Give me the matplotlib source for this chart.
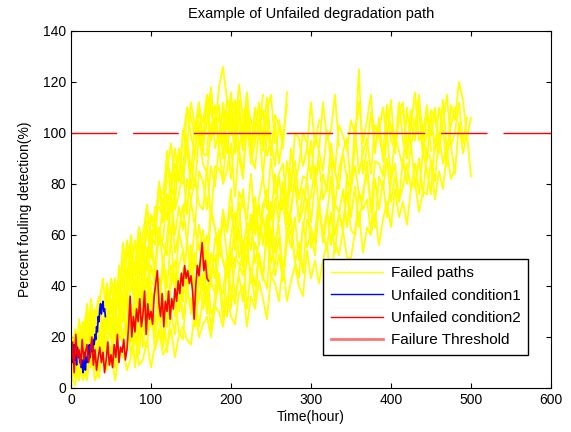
import numpy as np
import matplotlib
matplotlib.use("Agg")
import matplotlib.pyplot as plt
from matplotlib.lines import Line2D

plt.rcParams['font.family'] = ['Liberation Sans', 'DejaVu Sans']

# failed paths are read every 5 hours, unfailed ones more finely
step_failed = 5
step_red = 2
step_blue = 1
threshold = 100

# fast degrading failed paths
fast_a = [15, 6, 27, 16, 26, 10, 25, 35, 23, 21, 40, 32, 42, 34, 54, 49, 39, 59, 52, 72, 56,
          65, 79, 65, 85, 96, 81, 93, 84, 110, 106, 98, 112, 95, 104, 118, 94, 100, 109, 92,
          107, 113, 101, 97, 111, 89, 108, 105, 99, 114, 95]
fast_b = [4, 11, 22, 5, 22, 31, 14, 23, 11, 33, 31, 25, 42, 27, 39, 55, 33, 42, 53, 39, 56,
          66, 58, 58, 76, 58, 81, 82, 80, 99, 84, 103, 101, 92, 114, 97, 105, 111, 90, 108,
          99, 110, 93, 104, 115, 95, 100, 112, 96, 106, 91, 107, 103, 94, 116]
fast_c = [22, 12, 18, 26, 13, 35, 22, 32, 43, 24, 43, 37, 34, 57, 41, 53, 44, 63, 54, 46, 68,
          65, 56, 74, 66, 84, 70, 76, 87, 68, 88, 79, 99, 88, 84, 101, 111, 94, 104, 93,
          111, 102, 113, 96, 107, 92, 110, 100, 115]
fast_d = [5, 18, 3, 17, 30, 12, 19, 33, 20, 32, 19, 39, 38, 33, 58, 44, 58, 45, 61, 71, 60,
          56, 78, 76, 90, 76, 88, 81, 101, 94, 112, 102, 112, 97, 115, 109, 100, 118, 126,
          113, 111, 100, 119, 106]
fast_e = [14, 9, 18, 9, 28, 22, 11, 30, 22, 41, 24, 31, 42, 26, 43, 52, 35, 44, 33, 55, 53,
          47, 63, 48, 59, 75, 53, 61, 72, 57, 74, 82, 72, 70, 86, 66, 87, 86, 82, 99,
          82, 98, 91, 82, 105, 88, 97, 103, 83, 101, 93, 104, 88, 99, 111]
fast_f = [8, 21, 7, 22, 31, 19, 13, 35, 31, 40, 29, 40, 32, 51, 43, 60, 44, 57, 44, 65, 67,
          60, 81, 71, 81, 81, 72, 94, 83, 94, 78, 93, 104, 92, 91, 117, 100, 107, 96, 113,
          105, 92, 109, 99, 116, 97, 102, 111, 93, 108, 115, 96]
fast_g = [14, 7, 3, 22, 18, 12, 31, 18, 14, 29, 35, 23, 48, 31, 36, 45, 32, 53, 40, 51, 62,
          42, 62, 56, 52, 76, 60, 71, 62, 82, 73, 63, 85, 81, 70, 87, 79, 95, 80, 85,
          96, 75, 94, 84, 103, 91, 86, 101, 109, 91, 97, 87, 105, 97]
fast_h = [6, 23, 17, 9, 33, 18, 28, 36, 16, 36, 29, 43, 29, 43, 57, 40, 48, 63, 50, 63, 51,
          71, 71, 67, 93, 79, 94, 81, 99, 109, 99, 91, 110, 104, 115, 97, 106, 95, 112, 101,
          116, 98, 108, 93, 111, 105, 96]

# slow degrading failed paths
slow_1 = [3, 12, 21, 8, 5, 28, 12, 20, 10, 28, 21, 9, 27, 18, 36, 18, 23, 33, 16, 32, 40,
          22, 30, 18, 38, 35, 28, 43, 27, 37, 52, 28, 35, 45, 29, 45, 52, 40, 37, 52, 31,
          51, 49, 44, 59, 41, 57, 50, 42, 65, 49, 57, 64, 44, 63, 55, 67, 50, 62, 74, 55,
          61, 74, 59, 70, 56, 72, 69, 61, 84, 67, 79, 63, 77, 84, 71, 63, 83, 78, 90, 73,
          83, 73, 90, 80, 96, 79, 90, 75, 94, 89, 81, 99, 88, 96, 95, 84, 104, 92, 100, 83]
slow_2 = [7, 21, 10, 16, 20, 12, 24, 22, 17, 29, 22, 20, 30, 33, 21, 30, 27, 37, 32, 26, 42,
          40, 31, 49, 31, 42, 50, 39, 34, 58, 45, 53, 42, 53, 60, 40, 59, 54, 66, 52, 50,
          63, 73, 53, 65, 62, 73, 56, 69, 78, 66, 84, 70, 79, 67, 84, 89, 74, 83, 82, 97,
          79, 93, 85, 101, 90, 85, 103, 99, 93, 105, 99, 112, 96, 105, 115, 94, 101, 110, 98,
          113, 92, 106, 109, 95, 103, 116, 97, 100, 111, 93]
slow_3 = [11, 9, 17, 8, 15, 20, 10, 21, 16, 29, 21, 30, 21, 29, 25, 42, 32, 40, 22, 32, 47,
          42, 31, 49, 39, 59, 38, 48, 54, 39, 56, 47, 64, 54, 50, 71, 62, 52, 70, 61, 71,
          54, 77, 72, 66, 84, 63, 74, 83, 70, 90, 76, 84, 88, 71, 94, 81, 87, 100, 96, 82,
          100, 93, 112, 98, 101, 115, 95]
slow_4 = [9, 4, 12, 3, 9, 15, 3, 8, 13, 7, 16, 3, 13, 15, 7, 12, 20, 9, 11, 19, 8,
          17, 23, 13, 16, 23, 12, 21, 24, 19, 17, 31, 20, 25, 28, 20, 32, 30, 24, 36, 28,
          25, 37, 40, 24, 36, 31, 42, 35, 27, 44, 41, 34, 49, 34, 42, 48, 40, 36, 54, 43,
          50, 41, 50, 57, 41, 57, 52, 62, 51, 51, 61, 69, 53, 63, 60, 69, 56, 66, 73, 63,
          78, 67, 73, 64, 78, 81, 69, 77, 76, 89, 74, 85, 78, 93, 82, 86]
slow_5 = [9, 14, 8, 15, 19, 8, 20, 16, 24, 16, 15, 23, 29, 18, 25, 22, 33, 16, 28, 37, 24,
          42, 28, 36, 24, 41, 45, 30, 39, 37, 52, 33, 47, 38, 54, 42, 37, 54, 50, 43, 55,
          47, 62, 47, 57, 68, 49, 57, 67, 56, 73, 53, 68, 72, 60, 69, 83, 65, 70, 82, 65,
          80, 89, 74, 79, 90, 71, 86, 92, 82, 79, 103, 84, 92, 98, 84, 103, 99, 91, 111, 97,
          94, 108, 112, 91, 104, 97, 111, 101, 89, 109, 106, 96, 113, 93, 103, 110]
slow_6 = [12, 9, 17, 21, 13, 27, 16, 19, 23, 15, 28, 20, 26, 32, 20, 33, 25, 20, 42, 25, 35,
          25, 43, 33, 24, 45, 41, 30, 47, 38, 55, 40, 45, 55, 34, 53, 43, 62, 50, 45, 60,
          69, 51, 58, 49, 68, 60, 72, 56, 68, 55, 74, 65, 81, 64, 71, 81, 65, 78, 72, 75,
          87, 70, 84, 77, 96, 85, 78, 93, 98, 77, 95, 125, 84, 94, 108, 92, 106, 89, 108, 103,
          94, 112, 97, 90, 109, 102, 115, 95, 99, 107, 93, 110, 101, 87, 111, 105, 120, 113, 98, 106]
slow_7 = [5, 1, 11, 10, 3, 15, 8, 4, 15, 14, 9, 21, 14, 12, 19, 27, 8, 25, 19, 16, 32,
          15, 21, 32, 14, 30, 35, 22, 19, 41, 29, 37, 24, 35, 48, 29, 32, 43, 27, 48, 39,
          33, 46, 53, 31, 47, 40, 53, 44, 39, 61, 44, 52, 42, 58, 62, 50, 43, 65, 55, 61,
          52, 71, 61, 54, 69, 53, 69, 63, 77, 62, 60, 77, 70, 74, 61, 82, 70, 81, 67, 81,
          88, 73, 79, 88, 78, 88, 76, 93, 85, 76, 98, 92]
slow_8 = [6, 13, 17, 10, 14, 24, 16, 24, 17, 31, 24, 28, 24, 35, 35, 23, 37, 32, 48, 33, 48,
          41, 32, 51, 42, 48, 39, 61, 54, 43, 48, 64, 54, 62, 46, 68, 63, 54, 68, 62, 78,
          57, 64, 78, 62, 54, 75, 60, 72, 76, 58, 71, 83, 70, 89, 77, 100, 98, 87, 94, 112,
          95, 105]
slow_9 = [2, 10, 9, 4, 18, 9, 16, 7, 16, 20, 13, 8, 21, 18, 26, 13, 23, 13, 31, 21, 37,
          20, 30, 16, 35, 29, 21, 40, 28, 36, 35, 24, 44, 31, 40, 23, 36, 45, 32, 28, 52,
          36, 44, 34, 52, 46, 34, 52, 43, 61, 43, 49, 59, 42, 58, 67, 49, 57, 45, 66, 63,
          57, 72, 57, 67, 83, 60, 68, 78, 63, 79, 87, 76, 74, 89, 69, 89, 88, 83, 100, 82,
          99, 93, 86, 110, 95, 104, 110, 90, 108, 99, 110, 93, 104, 115, 95, 100, 112, 96, 106]

# unfailed condition 2 (red), every 2 hours
unfailed2 = [8, 18, 6, 21, 12, 15, 9, 19, 11, 14,
             17, 10, 13, 20, 9, 15, 7, 12, 16, 10, 14, 6, 11, 18, 9,
             13, 8, 17, 12, 21, 10, 16, 14, 19, 11,
             15, 24, 36, 20, 28,
             22, 31, 26, 35, 24, 29, 38, 21, 33, 27,
             30, 25, 36, 41, 46, 33, 28, 37, 24, 34, 30, 38, 27, 35, 31,
             39, 34, 42, 37, 45, 40, 48, 43, 46, 41,
             44, 38, 27, 40, 48, 44, 51, 57, 46, 50, 43, 42]

# unfailed condition 1 (blue), every hour
unfailed1 = [12, 15, 10, 14, 17, 11, 13, 9, 16, 12, 14, 10, 13, 8, 11, 6, 9, 14, 7, 12,
             10, 15, 13, 17, 12, 16, 18, 14, 19, 17, 21, 19, 24, 22, 28, 26, 31, 33, 29, 32,
             34, 30, 31, 28]

failed_paths = [fast_a, fast_b, fast_c, fast_d, fast_e, fast_f, fast_g, fast_h,
                slow_1, slow_2, slow_3, slow_4, slow_5, slow_6, slow_7, slow_8, slow_9]

fig = plt.figure(figsize=(5.71, 4.32), dpi=100)
ax = fig.add_axes([0.1243, 0.1019, 0.8406, 0.8264])

for p in failed_paths:
    ax.plot(np.arange(len(p)) * step_failed, p, color=(1, 1, 0), lw=1.3)

ax.plot(np.arange(len(unfailed1)) * step_blue, unfailed1, color=(0, 0, 1), lw=1.2)
ax.plot(np.arange(len(unfailed2)) * step_red, unfailed2, color=(1, 0, 0), lw=1.2)

# threshold drawn as an uneven dashed line (as in the original)
dash_units = [57, 20, 57, 19, 97, 19, 58, 18, 97, 20, 58, 20, 60, 20]
thr, = ax.plot([0, 600], [threshold, threshold], color=(1, 0, 0), lw=1.0)
thr.set_dashes([u * 0.8 * 0.72 for u in dash_units])

ax.set_xlim(0, 600)
ax.set_ylim(0, 140)
ax.set_xticks(range(0, 601, 100))
ax.set_yticks(range(0, 141, 20))
ax.tick_params(direction='in', top=True, right=True, length=3.5, labelsize=10)
ax.set_xlabel('Time(hour)', fontsize=10, labelpad=2)
ax.set_ylabel('Percent fouling detection(%)', fontsize=10, labelpad=8)
ax.set_title('Example of Unfailed degradation path', fontsize=10.5, pad=9)

handles = [Line2D([], [], color=(1, 1, 0), lw=1.0),
           Line2D([], [], color=(0, 0, 1), lw=1.0),
           Line2D([], [], color=(1, 0, 0), lw=1.0),
           Line2D([], [], color=(1, 0.45, 0.45), lw=2.0)]
labels = ['Failed paths', 'Unfailed condition1', 'Unfailed condition2', 'Failure Threshold']
leg = ax.legend(handles, labels, loc='lower right', bbox_to_anchor=(0.952, 0.092),
                borderaxespad=0, fontsize=11, handlelength=3.4, handletextpad=0.5,
                labelspacing=0.55, fancybox=False, framealpha=1, edgecolor='black',
                borderpad=0.5)
leg.get_frame().set_linewidth(1.0)

fig.savefig('out.png', dpi=100)
